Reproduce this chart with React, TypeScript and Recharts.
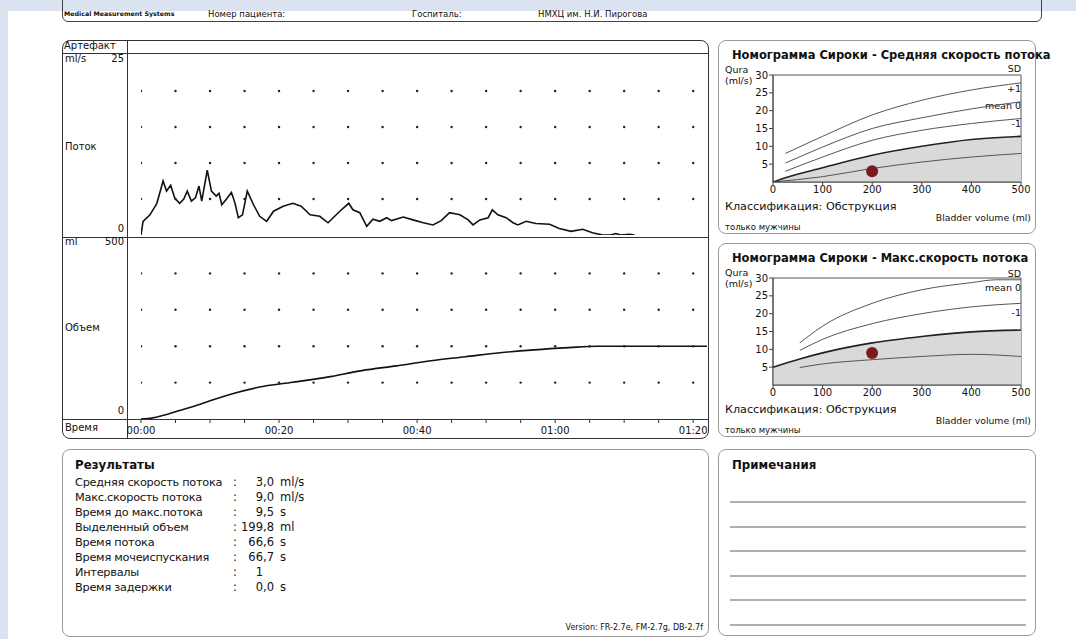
import React from "react";
import {
  ComposedChart,
  Line,
  Area,
  Scatter,
  XAxis,
  YAxis,
  ReferenceArea,
} from "recharts";

// uroflow curve, time (s) / flow (ml/s)
const flowTimes = [
  0, 0.3, 1.3, 2.3, 3.2, 3.7, 4.3, 4.9, 5.6, 6.2, 6.7, 7.3, 7.9, 8.4, 8.8, 9.6, 10.2, 10.9, 11.3, 11.7,
  12.3, 13.1, 13.6, 14.1, 14.7, 15.4, 16.3, 17.2, 18.2, 19.2, 20.6, 22.0, 23.2, 24.5, 25.9, 27.1, 28.8,
  30.1, 30.7, 31.7, 32.7, 33.6, 34.6, 35.6, 36.3, 38.0, 39.4, 40.9, 42.3, 43.5, 44.7, 46.2, 47.4, 48.1,
  49.1, 50.3, 50.9, 51.7, 52.9, 53.9, 54.6, 55.8, 57.2, 59.2, 60.6, 62.3, 64.0, 65.4, 66.9, 68.0, 68.8,
  69.5, 70.8, 71.5,
];
const flowValues = [
  0, 1.9, 2.8, 4.4, 7.5, 6.1, 6.9, 5.1, 4.4, 5.0, 6.1, 4.7, 5.2, 6.8, 4.7, 9.0, 6.1, 5.4, 5.8, 4.2,
  4.9, 5.9, 4.5, 2.4, 2.8, 6.1, 4.2, 2.6, 1.9, 3.3, 4.0, 4.4, 4.0, 2.8, 2.6, 1.7, 3.3,
  4.4, 3.5, 3.1, 1.2, 2.2, 1.9, 2.4, 2.0, 2.5, 2.1, 1.7, 1.4, 2.0, 3.1, 2.8, 2.1, 1.4,
  2.1, 2.4, 3.5, 2.8, 2.4, 1.7, 1.4, 1.9, 1.6, 1.5, 0.9, 0.5, 0.8, 0.3, 0, 0, 0.2,
  0, 0.1, 0,
];

// voided volume (ml)
const volumeTimes = [0, 1, 3, 5, 8, 10, 13, 17, 22, 27, 32, 37, 42, 47, 52, 57, 62, 66, 70, 82];
const volumeValues = [0, 1, 9, 20, 37, 50, 68, 87, 101, 115, 133, 146, 160, 171, 182, 190, 196, 199.8, 199.8, 199.8];

const gridTimes = [0, 5, 10, 15, 20, 25, 30, 35, 40, 45, 50, 55, 60, 65, 70, 75, 80];
const flowGridLevels = [5, 10, 15, 20];
const volumeGridLevels = [100, 200, 300, 400];
const timeLabels = ["00:00", "00:20", "00:40", "01:00", "01:20"];

// Siroky nomogram, average flow: [volume ml, Qura ml/s]
const avgPlus1 = [[25, 8.0], [100, 12.8], [200, 18.8], [300, 22.9], [400, 25.8], [500, 27.8]];
const avgMean = [[25, 5.3], [100, 9.8], [200, 15.0], [300, 18.0], [400, 20.5], [500, 22.5]];
const avgMinus1 = [[25, 3.0], [100, 7.0], [200, 11.7], [300, 14.5], [400, 16.4], [500, 17.8]];
const avgMinus2 = [[0, 0], [25, 1.2], [100, 4.0], [200, 7.5], [300, 10.0], [400, 11.9], [500, 12.8]];
const avgMinus3 = [[0, 0], [100, 1.5], [200, 3.8], [300, 5.6], [400, 7.0], [500, 8.0]];
const avgPatient = [[199.8, 3.0]];

// Siroky nomogram, max flow
const maxMean = [[54, 11.8], [100, 16.5], [200, 22.9], [300, 26.7], [400, 28.7], [450, 29.5], [500, 29.5]];
const maxMinus1 = [[54, 9.7], [100, 12.8], [200, 17.2], [300, 20.0], [400, 21.9], [500, 22.9]];
const maxMinus2 = [[0, 5.0], [54, 7.3], [100, 9.0], [200, 11.8], [300, 13.6], [400, 14.9], [500, 15.4]];
const maxMinus3 = [[54, 4.9], [100, 5.9], [200, 7.1], [300, 8.0], [400, 8.6], [500, 8.0]];
const maxPatient = [[199.8, 9.0]];

const volumeTicks = [0, 100, 200, 300, 400, 500];
const quraTicks = [5, 10, 15, 20, 25, 30];

const resultLabels = [
  "Средняя скорость потока",
  "Макс.скорость потока",
  "Время до макс.потока",
  "Выделенный объем",
  "Время потока",
  "Время мочеиспускания",
  "Интервалы",
  "Время задержки",
];
const resultInts = ["3", "9", "9", "199", "66", "66", "1", "0"];
const resultFracs = [",0", ",0", ",5", ",8", ",6", ",7", "", ",0"];
const resultUnits = ["ml/s", "ml/s", "s", "ml", "s", "s", "", "s"];

const noteLines = [501, 526, 550, 575, 599, 624];

const FONT = '"DejaVu Sans", Verdana, sans-serif';

const pts = (arr: number[][]) => arr.map(([x, y]) => ({ x, y }));

function T({
  x,
  cy,
  size = 10,
  bold = false,
  end = false,
  tight = 0,
  color = "#111",
  children,
}: {
  x: number;
  cy: number;
  size?: number;
  bold?: boolean;
  end?: boolean;
  tight?: number;
  color?: string;
  children: React.ReactNode;
}) {
  const style: React.CSSProperties = {
    position: "absolute",
    top: cy - size / 2 - 1,
    fontSize: size,
    lineHeight: 1,
    fontWeight: bold ? 700 : 400,
    whiteSpace: "nowrap",
    letterSpacing: tight,
    color,
  };
  if (end) {
    style.left = x - 300;
    style.width = 300;
    style.textAlign = "right";
  } else {
    style.left = x;
  }
  return <div style={style}>{children}</div>;
}

function Box({ x, y, w, h, color = "#999", r = 8, width = 1.3 }: any) {
  return (
    <div
      style={{
        position: "absolute",
        left: x,
        top: y,
        width: w,
        height: h,
        border: `${width}px solid ${color}`,
        borderRadius: r,
        boxSizing: "border-box",
      }}
    />
  );
}

function HLine({ x1, x2, y, color = "#333", width = 1.2 }: any) {
  return (
    <div style={{ position: "absolute", left: x1, top: y, width: x2 - x1, height: width, background: color }} />
  );
}

const gridDot = (props: any) => <circle cx={props.cx} cy={props.cy} r={1.2} fill="#222" />;
const patientDot = (props: any) => <circle cx={props.cx} cy={props.cy} r={6} fill="#7a1a1e" />;

function Nomogram({
  top,
  title,
  fill,
  lines,
  patient,
  labels,
}: {
  top: number;
  title: string;
  fill: number[][];
  lines: number[][][];
  patient: number[][];
  labels: Array<[string, number]>;
}) {
  return (
    <>
      <Box x={718} y={top} w={318} h={194} />
      <T x={732} cy={top + 17} size={11.5} bold>
        {title}
      </T>
      <T x={725} cy={top + 31} size={9.5}>Qura</T>
      <T x={725} cy={top + 42} size={9.5}>(ml/s)</T>
      {labels.map(([s, cy]) => (
        <T key={s} x={1021} cy={top + cy} size={9.5} end>
          {s}
        </T>
      ))}
      <div style={{ position: "absolute", left: 740, top: top + 30 }}>
        <ComposedChart
          width={290}
          height={130}
          data={pts(fill)}
          margin={{ top: 5, right: 9, bottom: 0, left: 0 }}
        >
          <XAxis
            type="number"
            dataKey="x"
            domain={[0, 500]}
            ticks={volumeTicks}
            height={18}
            tick={{ fontSize: 10, fill: "#111", fontFamily: FONT }}
            tickSize={3}
            tickMargin={1}
            stroke="#444"
          />
          <YAxis
            type="number"
            dataKey="y"
            domain={[0, 30]}
            ticks={quraTicks}
            width={33}
            tick={{ fontSize: 10, fill: "#111", fontFamily: FONT }}
            tickSize={4}
            tickMargin={1}
            stroke="#444"
            allowDataOverflow
          />
          <ReferenceArea x1={0} x2={500} y1={0} y2={30} fill="#fff" fillOpacity={0} stroke="#555" strokeWidth={1} />
          <Area
            type="monotone"
            dataKey="y"
            stroke="#222"
            strokeWidth={1.6}
            fill="#d9d9d9"
            fillOpacity={1}
            isAnimationActive={false}
          />
          {lines.map((l, i) => (
            <Line
              key={i}
              data={pts(l)}
              type="monotone"
              dataKey="y"
              stroke="#555"
              strokeWidth={1}
              dot={false}
              isAnimationActive={false}
            />
          ))}
          <Scatter data={pts(patient)} shape={patientDot} isAnimationActive={false} />
        </ComposedChart>
      </div>
      <T x={725} cy={top + 168} size={11.2}>Классификация: Обструкция</T>
      <T x={1031} cy={top + 179} size={9.3} end>
        Bladder volume (ml)
      </T>
      <T x={725} cy={top + 188} size={8.5}>только мужчины</T>
    </>
  );
}

export default function App() {
  const flowData = flowTimes.map((t, i) => ({ x: t, y: flowValues[i] }));
  const volumeData = volumeTimes.map((t, i) => ({ x: t, y: volumeValues[i] }));
  const flowDots = gridTimes.flatMap((t) => flowGridLevels.map((f) => ({ x: t, y: f })));
  const volumeDots = gridTimes.flatMap((t) => volumeGridLevels.map((v) => ({ x: t, y: v })));

  return (
    <div
      style={{
        position: "absolute",
        left: 0,
        top: 0,
        width: 1076,
        height: 639,
        background: "#fff",
        overflow: "hidden",
        fontFamily: FONT,
        color: "#111",
      }}
    >
      <div style={{ position: "absolute", left: 0, top: 0, width: 1076, height: 11, background: "#dce3f0" }} />
      <div style={{ position: "absolute", left: 0, top: 0, width: 8, height: 639, background: "#dce3f0" }} />

      {/* header */}
      <Box x={62} y={-12} w={980} h={34} color="#444" r={6} />
      <T x={64} cy={15} size={6.3} bold>Medical Measurement Systems</T>
      <T x={208} cy={15} size={8.5}>Номер пациента:</T>
      <T x={412} cy={15} size={8.5}>Госпиталь:</T>
      <T x={538} cy={15} size={8.5}>НМХЦ им. Н.И. Пирогова</T>

      {/* main trace box */}
      <Box x={62} y={40} w={647} h={399} color="#333" r={8} width={1.2} />
      <div style={{ position: "absolute", left: 127, top: 40, width: 1.2, height: 399, background: "#333" }} />
      <HLine x1={62} x2={708} y={53} />
      <HLine x1={62} x2={708} y={237} />
      <HLine x1={62} x2={708} y={419} />

      <T x={64} cy={46.5} size={10}>Артефакт</T>
      <T x={65} cy={59.5} size={10}>ml/s</T>
      <T x={124} cy={59.5} size={10} end>25</T>
      <T x={65} cy={148} size={10}>Поток</T>
      <T x={124} cy={230} size={10} end>0</T>
      <T x={65} cy={243} size={10}>ml</T>
      <T x={124} cy={243} size={10} end>500</T>
      <T x={65} cy={329} size={10}>Объем</T>
      <T x={124} cy={412} size={10} end>0</T>
      <T x={65} cy={428.5} size={10}>Время</T>

      <div style={{ position: "absolute", left: 127, top: 53 }}>
        <ComposedChart width={581} height={184} margin={{ top: 2, right: 1, bottom: 2, left: 14 }}>
          <XAxis type="number" dataKey="x" domain={[0, 82]} hide allowDataOverflow />
          <YAxis type="number" dataKey="y" domain={[0, 25]} hide allowDataOverflow />
          <Scatter data={flowDots} shape={gridDot} isAnimationActive={false} />
          <Line
            data={flowData}
            type="linear"
            dataKey="y"
            stroke="#111"
            strokeWidth={1.6}
            dot={false}
            isAnimationActive={false}
          />
        </ComposedChart>
      </div>

      <div style={{ position: "absolute", left: 127, top: 237 }}>
        <ComposedChart width={581} height={202} margin={{ top: 0, right: 1, bottom: 0, left: 14 }}>
          <XAxis
            type="number"
            dataKey="x"
            domain={[0, 82]}
            ticks={gridTimes}
            interval={0}
            height={20}
            axisLine={false}
            tickSize={4}
            tickMargin={4}
            stroke="#333"
            tick={{ fontSize: 10, fill: "#111", fontFamily: FONT }}
            tickFormatter={(v: number) => (v % 20 === 0 ? timeLabels[v / 20] : "")}
            allowDataOverflow
          />
          <YAxis type="number" dataKey="y" domain={[0, 500]} hide allowDataOverflow />
          <Scatter data={volumeDots} shape={gridDot} isAnimationActive={false} />
          <Line
            data={volumeData}
            type="monotone"
            dataKey="y"
            stroke="#111"
            strokeWidth={1.6}
            dot={false}
            isAnimationActive={false}
          />
        </ComposedChart>
      </div>

      {/* nomograms */}
      <Nomogram
        top={40}
        title="Номограмма Сироки - Средняя скорость потока"
        fill={avgMinus2}
        lines={[avgPlus1, avgMean, avgMinus1, avgMinus3]}
        patient={avgPatient}
        labels={[
          ["SD", 30],
          ["+1", 50],
          ["mean 0", 67],
          ["-1", 85],
          ["-2", 102],
          ["-3", 119],
        ]}
      />
      <Nomogram
        top={243}
        title="Номограмма Сироки - Макс.скорость потока"
        fill={maxMinus2}
        lines={[maxMean, maxMinus1, maxMinus3]}
        patient={maxPatient}
        labels={[
          ["SD", 32],
          ["mean 0", 46],
          ["-1", 71],
          ["-2", 97],
          ["-3", 123],
        ]}
      />

      {/* results */}
      <Box x={62} y={449} w={647} h={188} />
      <T x={75} cy={467} size={11.8} bold>Результаты</T>
      {resultLabels.map((label, i) => (
        <React.Fragment key={label}>
          <T x={75} cy={483.5 + i * 15} size={11.3} tight={-0.25}>{label}</T>
          <T x={233} cy={483.5 + i * 15} size={11.5}>:</T>
          <T x={263} cy={483.5 + i * 15} size={11.5} end>{resultInts[i]}</T>
          <T x={263} cy={483.5 + i * 15} size={11.5}>{resultFracs[i]}</T>
          <T x={280} cy={483.5 + i * 15} size={11.5}>{resultUnits[i]}</T>
        </React.Fragment>
      ))}
      <T x={703} cy={629} size={8} end>Version: FR-2.7e, FM-2.7g, DB-2.7f</T>

      {/* notes */}
      <Box x={718} y={449} w={318} h={187} />
      <T x={732} cy={467} size={11.8} bold>Примечания</T>
      {noteLines.map((y) => (
        <HLine key={y} x1={730} x2={1026} y={y} color="#b0b0b0" width={2} />
      ))}
    </div>
  );
}
